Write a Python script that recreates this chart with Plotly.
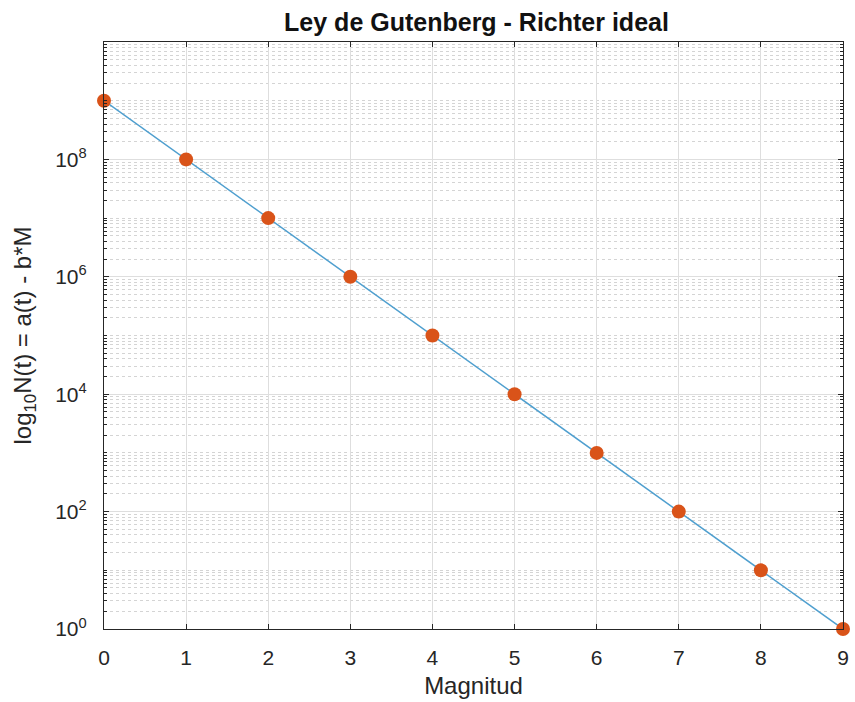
import plotly.graph_objects as go

# Gutenberg-Richter relation: log10 N = a - b*M with a = 9, b = 1
magnitudes = [0, 1, 2, 3, 4, 5, 6, 7, 8, 9]
counts = [1e9, 1e8, 1e7, 1e6, 1e5, 1e4, 1e3, 1e2, 1e1, 1e0]

y_major_exp = [0, 2, 4, 6, 8, 10]
y_tick_text = ["10<sup>0</sup>", "10<sup>2</sup>", "10<sup>4</sup>",
               "10<sup>6</sup>", "10<sup>8</sup>", ""]

# minor grid: every value m*10^k except the labelled even decades
y_minor = []
for k in range(0, 10):
    for m in range(1, 10):
        if m == 1 and k % 2 == 0:
            continue
        y_minor.append(m * 10 ** k)

axis_color = "#262626"
font = dict(family="Liberation Sans, Arial, sans-serif", size=21, color=axis_color)

fig = go.Figure()
fig.add_trace(go.Scatter(
    x=magnitudes, y=counts,
    mode="lines+markers",
    line=dict(color="#4f9fcf", width=1.5),
    marker=dict(color="#D95319", size=14, line=dict(width=0)),
    cliponaxis=False,
    showlegend=False,
))

fig.update_layout(
    width=855, height=702,
    margin=dict(l=104, r=6, t=42, b=73),
    paper_bgcolor="white", plot_bgcolor="white",
    font=font,
    title=dict(text="<b>Ley de Gutenberg - Richter ideal</b>",
               x=(104 + 849) / 2 / 855, xanchor="center",
               y=1 - 22 / 702, yanchor="middle",
               font=dict(size=25, color="#111111")),
)

fig.update_xaxes(
    range=[0, 9], tickmode="array", tickvals=magnitudes,
    ticks="inside", ticklen=5, tickcolor=axis_color, ticklabelstandoff=10,
    showline=True, linecolor=axis_color, linewidth=1.2, mirror="ticks",
    showgrid=True, gridcolor="#dedede", gridwidth=1,
    zeroline=False,
    title=dict(text="Magnitud", standoff=8, font=dict(size=24)),
)

fig.update_yaxes(
    type="log", range=[0, 10],
    tickmode="array", tickvals=[10 ** e for e in y_major_exp], ticktext=y_tick_text,
    ticks="inside", ticklen=5, tickcolor=axis_color, ticklabelstandoff=12,
    showline=True, linecolor=axis_color, linewidth=1.2, mirror="ticks",
    showgrid=True, gridcolor="#dedede", gridwidth=1,
    zeroline=False,
    minor=dict(tickvals=y_minor, ticks="inside", ticklen=3, tickcolor=axis_color,
               showgrid=True, gridcolor="#d4d4d4", griddash="dot", gridwidth=1),
    title=dict(text="log<sub>10</sub>N(t) = a(t) - b*M", standoff=16, font=dict(size=24)),
)

fig.write_html("out.html")
